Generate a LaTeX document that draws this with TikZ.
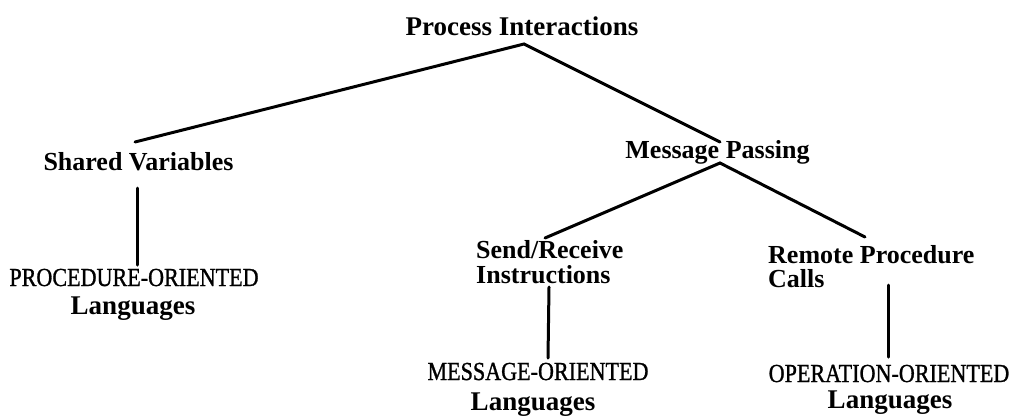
\documentclass[tikz,border=0pt]{standalone}
\usepackage{fontspec}
\setmainfont{Liberation Serif}
\newfontfamily\narrowserif[FakeStretch=0.85,FakeBold=1]{Liberation Serif}
\begin{document}
\begin{tikzpicture}[x=1pt,y=-1pt,
  every node/.style={inner sep=0pt,anchor=base},
  title/.style={font=\bfseries\fontsize{27}{30}\selectfont},
  head/.style={font=\bfseries\fontsize{26}{29}\selectfont},
  sub/.style={anchor=base west,font=\bfseries\fontsize{26}{29}\selectfont},
  caps/.style={font=\narrowserif\fontsize{26}{29}\selectfont},
  lang/.style={font=\bfseries\fontsize{27}{30}\selectfont},
  link/.style={line width=3pt,line cap=round}]
\useasboundingbox (0,0) rectangle (1011,416);

% labels, placed on their baselines
\node[title] (top) at (522,35) {Process Interactions};
\node[head] (sv) at (138.5,170) {Shared Variables};
\node[head] (mp) at (717.5,158) {Message Passing};
\node[caps] (po) at (134,286) {PROCEDURE-ORIENTED};
\node[lang] (pol) at (133,314) {Languages};
\node[sub] (sr1) at (476,258) {Send/Receive};
\node[sub] (sr2) at (476,283) {Instructions};
\node[sub] (rpc1) at (768,263) {Remote Procedure};
\node[sub] (rpc2) at (768,287) {Calls};
\node[caps] (mo) at (538,380) {MESSAGE-ORIENTED};
\node[lang] (mol) at (533,410) {Languages};
\node[caps] (op) at (889,382) {OPERATION-ORIENTED};
\node[lang] (opl) at (890,408) {Languages};

% branches
\coordinate (apex) at ([xshift=2pt,yshift=-9pt]top.base);
\draw[link] ([xshift=-3.5pt,yshift=28pt]sv.base) -- (apex) -- ([xshift=2.5pt,yshift=16pt]mp.base);
\coordinate (mpjoin) at ([xshift=2.5pt,yshift=-5pt]mp.base);
\draw[link] ([xshift=69pt,yshift=20pt]sr1.base west) -- (mpjoin) -- ([xshift=97pt,yshift=26pt]rpc1.base west);

% leaves
\draw[link] ([xshift=-1.5pt,yshift=-18pt]sv.base) -- ([xshift=3pt,yshift=21pt]po.base);
\draw[link] ([xshift=73pt,yshift=-4pt]sr2.base west) -- ([xshift=10pt,yshift=22pt]mo.base);
\draw[link] ([xshift=120pt,yshift=2pt]rpc2.base west) -- ([xshift=-1pt,yshift=25pt]op.base);
\end{tikzpicture}
\end{document}
